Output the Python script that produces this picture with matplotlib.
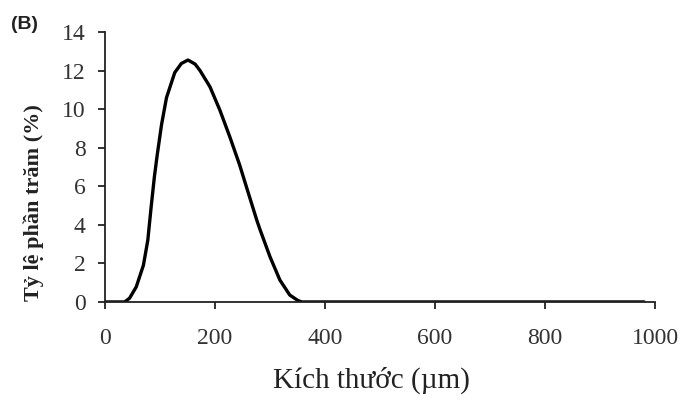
#plot.py - particle size distribution curve (B)
import matplotlib.pyplot as plt

# SECTION1: data
size_um = [0, 36, 45, 57, 70, 78, 84, 90, 95, 103, 112, 127, 139, 151, 164, 173,
           191, 209, 227, 245, 258, 276, 282, 300, 318, 336, 351, 358, 400, 600, 800, 980]
percent = [0, 0, 0.2, 0.78, 1.9, 3.2, 4.9, 6.5, 7.6, 9.2, 10.6, 11.9, 12.37, 12.55, 12.34, 12.0,
           11.16, 9.95, 8.57, 7.1, 5.9, 4.25, 3.75, 2.35, 1.14, 0.36, 0.07, 0, 0, 0, 0, 0]
x_ticks = [0, 200, 400, 600, 800, 1000]
y_ticks = [0, 2, 4, 6, 8, 10, 12, 14]

# SECTION2: figure
fig = plt.figure(figsize=(6.81, 4.01), dpi=100)
ax = fig.add_axes([0.154, 0.247, 0.808, 0.673])

ax.plot(size_um, percent, color='black', linewidth=2.4,
        solid_capstyle='round', solid_joinstyle='round')

ax.set_xlim(0, 1000)
ax.set_ylim(0, 14)
ax.set_xticks(x_ticks)
ax.set_yticks(y_ticks)

for side in ['top', 'right']:
    ax.spines[side].set_visible(False)
for side in ['left', 'bottom']:
    ax.spines[side].set_linewidth(1.3)
    ax.spines[side].set_color('#222222')

ax.tick_params(direction='out', length=5, width=1.3, colors='#222222',
               labelcolor='#333333', labelsize=17)
ax.tick_params(axis='x', pad=14)
ax.tick_params(axis='y', pad=9)
for lab in ax.get_xticklabels() + ax.get_yticklabels():
    lab.set_family('Liberation Serif')

ax.set_xlabel('Kích thước (µm)', family='Liberation Serif', fontsize=21,
              color='#222222')
ax.xaxis.set_label_coords(0.484, -0.24)
ax.set_ylabel('Tỷ lệ phần trăm (%)', family='Liberation Serif', fontsize=16,
              fontweight='bold', color='#222222')
ax.yaxis.set_label_coords(-0.11, 0.37)

fig.text(0.016, 0.96, '(B)', family='Liberation Sans', fontsize=14,
         fontweight='bold', color='#222222', va='top')

fig.savefig('out.png', dpi=100)
